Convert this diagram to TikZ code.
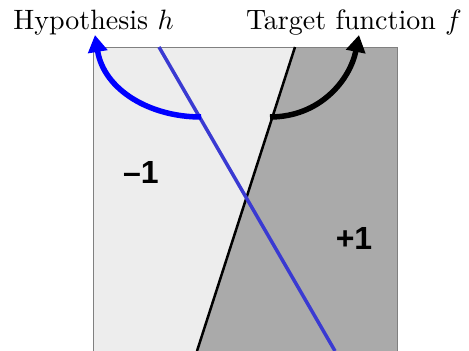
\documentclass[tikz,border=0pt]{standalone}
\usepackage{fontspec}
\usepackage{graphicx}
\newfontfamily\arial{Liberation Sans}
\usetikzlibrary{arrows.meta}
\definecolor{lightreg}{HTML}{EDEDED}
\definecolor{darkreg}{HTML}{AAAAAA}
\definecolor{hblue}{HTML}{3A3AD2}
\begin{document}
\begin{tikzpicture}[x=1pt,y=-1pt,
  lbl/.style={inner sep=0pt,anchor=base},
  sign/.style={inner sep=0pt,font=\arial\bfseries\fontsize{32}{36}\selectfont},
  arc/.style={line width=5.5pt,-{Triangle[length=17pt,width=19pt]}}]
\useasboundingbox (0,0) rectangle (469,351);
% regions
\coordinate (tl) at (93,47);
\coordinate (tr) at (397,47);
\coordinate (br) at (397,351);
\coordinate (bl) at (93,351);
\coordinate (ft) at (295,47);
\coordinate (fb) at (197,351);
\coordinate (ht) at (159,47);
\coordinate (hb) at (335,351);
\fill[lightreg] (tl) -- (ft) -- (fb) -- (bl) -- cycle;
\fill[darkreg] (ft) -- (tr) -- (br) -- (fb) -- cycle;
\draw[gray,line width=1pt] (bl) -- (tl) -- (tr) -- (br);
\draw[black,line width=2.5pt] (ft) -- (fb);
\draw[hblue,line width=3.5pt] (ht) -- (hb);
% arrows
\coordinate (hs) at (201,117);
\coordinate (he) at (95,35);
\coordinate (fs) at (270,117);
\coordinate (fe) at (359,35);
\draw[arc,blue] (hs) .. controls (150,117) and (104,90) .. (he);
\draw[arc,black] (fs) .. controls (320,117) and (350,80) .. (fe);
% labels
\node[lbl] (hl) at (93.5,29) {\scalebox{2.8}{Hypothesis $h$}};
\node[lbl] (fl) at (354,29) {\scalebox{2.8}{Target function $f$}};
\node[sign] (m1) at (141,172) {–1};
\node[sign] (p1) at (354,238) {+1};
\end{tikzpicture}
\end{document}
